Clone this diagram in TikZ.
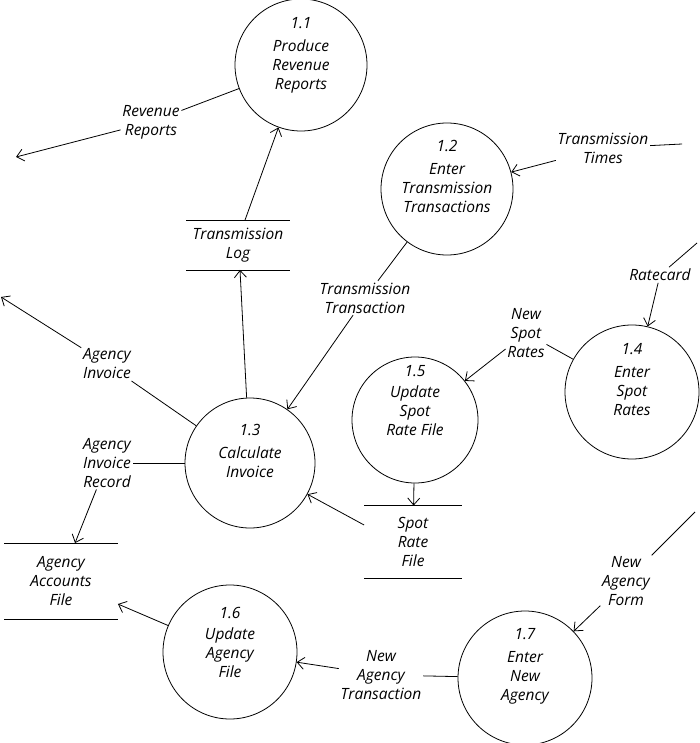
\documentclass[tikz,border=0pt]{standalone}
\usepackage{fontspec}
\setmainfont{Open Sans}
\usetikzlibrary{arrows.meta}

\begin{document}
\begin{tikzpicture}[x=1pt,y=-1pt,line width=0.8pt,
 font=\fontsize{15.5}{19}\selectfont\itshape,
 proc/.style={circle,draw,minimum size=132pt,inner sep=0pt},
 ptext/.style={align=center,inner sep=0pt},
 store/.style={align=center,inner sep=0pt},
 flowlabel/.style={align=center,inner sep=1.5pt},
 flow/.style={-{Straight Barb[length=7pt,width=12pt]}}]
 \useasboundingbox (0,0) rectangle (700,743);
 \node[proc] (p11) at (301,65) {};
 \node[ptext] (t11) at ([yshift=10pt]p11) {1.1\\[4pt]Produce\\Revenue\\Reports};
 \node[proc] (p12) at (447,189) {};
 \node[ptext] (t12) at ([yshift=13pt]p12) {1.2\\[4pt]Enter\\Transmission\\Transactions};
 \node[proc,minimum size=130pt] (p13) at (250,463) {};
 \node[ptext] (t13) at ([yshift=12pt]p13) {1.3\\[4pt]Calculate\\Invoice};
 \node[proc,minimum size=134pt] (p14) at (632,392) {};
 \node[ptext] (t14) at ([yshift=12pt]p14) {1.4\\[4pt]Enter\\Spot\\Rates};
 \node[proc,minimum size=126pt] (p15) at (415,420) {};
 \node[ptext] (t15) at ([yshift=19pt]p15) {1.5\\[2pt]Update\\Spot\\Rate File};
 \node[proc,minimum size=134pt] (p16) at (230,652) {};
 \node[ptext] (t16) at ([yshift=10pt]p16) {1.6\\[2pt]Update\\Agency\\File};
 \node[proc,minimum size=134pt] (p17) at (525,678) {};
 \node[ptext] (t17) at ([yshift=12pt]p17) {1.7\\[4pt]Enter\\New\\Agency};

 \node[store,minimum width=103pt,minimum height=49pt] (tlog) at (238,245) {Transmission\\Log};
 \draw (tlog.north west) -- (tlog.north east) (tlog.south west) -- (tlog.south east);
 \node[store,minimum width=97pt,minimum height=72pt] (srf) at (413,542) {Spot\\Rate\\File};
 \draw (srf.north west) -- (srf.north east) (srf.south west) -- (srf.south east);
 \node[store,minimum width=113pt,minimum height=75pt] (aaf) at (61,581) {Agency\\Accounts\\File};
 \draw (aaf.north west) -- (aaf.north east) (aaf.south west) -- (aaf.south east);

 \coordinate (revout) at (16,157);
 \node[flowlabel] (rrep) at (151,122) {Revenue\\Reports};
 \draw (p11) -- (rrep);
 \draw[flow] (rrep) -- (revout);
 \draw[flow] ([xshift=7pt]tlog.north) -- (p11);
 \draw[flow] (p13) -- ([xshift=2pt]tlog.south);

 \coordinate (ttin) at (682,144);
 \node[flowlabel] (ttimes) at (603,148) {Transmission\\Times};
 \draw (ttin) -- (ttimes);
 \draw[flow] (ttimes) -- (p12);

 \node[flowlabel] (ttrans) at (365,298) {Transmission\\Transaction};
 \draw (p12) -- (ttrans);
 \draw[flow] (ttrans) -- (p13);

 \coordinate (rcin) at (697,243);
 \node[flowlabel] (rcard) at (660,275) {Ratecard};
 \draw (rcin) -- (rcard);
 \draw[flow] (rcard) -- (p14);

 \node[flowlabel] (nspot) at (526,333) {New\\Spot\\Rates};
 \draw (p14) -- (nspot);
 \draw[flow] (nspot) -- (p15);

 \coordinate (aiout) at (1,297);
 \node[flowlabel] (ainv) at (107,364) {Agency\\Invoice};
 \draw (p13) -- (ainv);
 \draw[flow] (ainv) -- (aiout);

 \node[flowlabel] (airec) at (107,463) {Agency\\Invoice\\Record};
 \draw (p13) -- (airec);
 \draw[flow] (airec) -- ([xshift=14pt]aaf.north);

 \draw[flow] ([yshift=17pt]srf.west) -- (p13);
 \draw[flow] (p15) -- (srf);

 \coordinate (nain) at (695,512);
 \node[flowlabel] (naform) at (626,581) {New\\Agency\\Form};
 \draw (nain) -- (naform);
 \draw[flow] (naform) -- (p17);

 \node[flowlabel] (natr) at (381,675) {New\\Agency\\Transaction};
 \draw (p17) -- (natr);
 \draw[flow] (natr) -- (p16);

 \draw[flow] (p16) -- ([yshift=-23pt]aaf.east);
\end{tikzpicture}
\end{document}
